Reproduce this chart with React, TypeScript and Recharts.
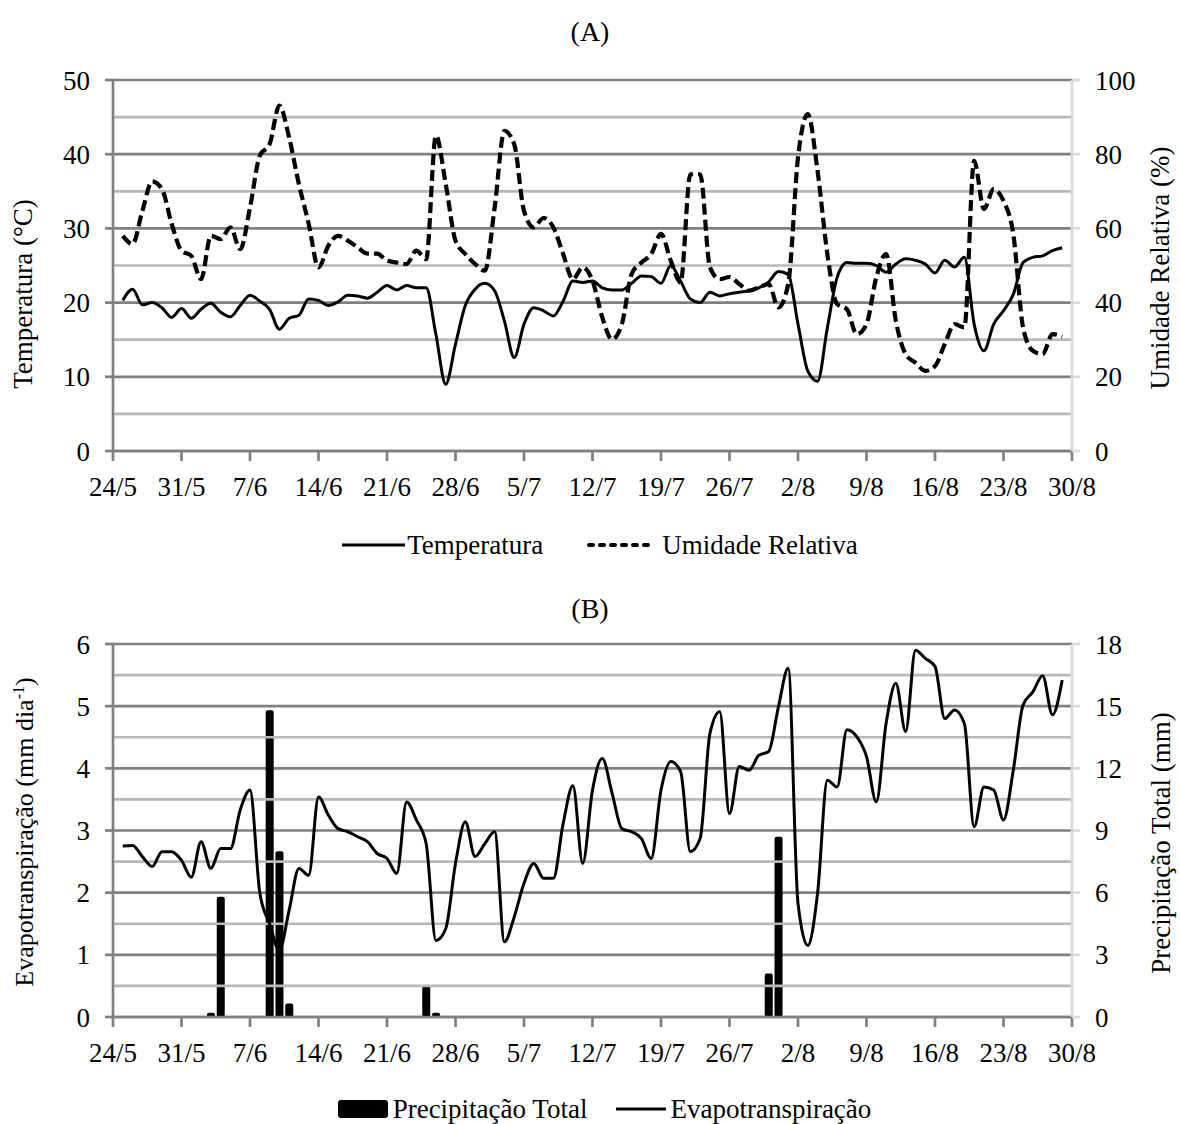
import {
  ComposedChart,
  Line,
  Bar,
  XAxis,
  YAxis,
  CartesianGrid,
  ReferenceLine,
  Legend,
} from "recharts";

// eixo x: dias contados a partir de 24/5
const tickDays = [0, 7, 14, 21, 28, 35, 42, 49, 56, 63, 70, 77, 84, 91, 98];
const tickLabels = [
  "24/5", "31/5", "7/6", "14/6", "21/6", "28/6", "5/7", "12/7",
  "19/7", "26/7", "2/8", "9/8", "16/8", "23/8", "30/8",
];

// (A) temperatura media diaria (°C), 25/5 a 29/8
const temperatura = [
  20.3, 21.8, 19.7, 20.0, 19.3, 18.0, 19.2, 17.9, 19.1, 19.9,
  18.7, 18.1, 19.6, 21.0, 20.2, 19.1, 16.4, 17.9, 18.3, 20.5,
  20.3, 19.6, 20.1, 21.0, 20.9, 20.6, 21.4, 22.3, 21.7, 22.3,
  22.0, 22.0, 15.7, 9.0, 14.4, 19.6, 21.8, 22.6, 21.6, 17.5,
  12.6, 17.1, 19.3, 18.9, 18.2, 20.2, 22.9, 22.7, 22.9, 22.0,
  21.7, 21.7, 22.6, 23.6, 23.5, 22.6, 25.0, 22.9, 20.5, 20.0,
  21.4, 20.9, 21.2, 21.4, 21.6, 22.0, 22.8, 24.2, 23.8, 17.1,
  10.8, 9.4, 16.6, 23.4, 25.4, 25.3, 25.3, 25.0, 24.1, 25.2,
  25.9, 25.7, 25.2, 24.0, 25.7, 24.8, 26.1, 17.1, 13.5, 17.1,
  18.9, 21.1, 25.4, 26.1, 26.3, 27.0, 27.4,
];

// (A) umidade relativa (%)
const umidade = [
  58.0, 55.8, 64.7, 72.7, 70.6, 61.2, 54.0, 52.6, 46.3, 58.0,
  57.1, 60.3, 54.4, 65.6, 79.6, 82.7, 93.1, 84.5, 71.9, 61.2,
  49.5, 55.3, 58.0, 56.7, 54.9, 53.2, 53.2, 51.3, 50.8, 50.4,
  54.0, 51.7, 85.0, 72.0, 56.7, 53.1, 50.4, 48.6, 65.6, 86.3,
  82.7, 64.7, 60.3, 62.8, 60.3, 53.1, 46.3, 49.5, 45.9, 36.0,
  30.1, 34.2, 47.7, 50.8, 53.1, 58.5, 51.3, 45.4, 74.6, 74.6,
  49.5, 46.3, 46.9, 45.0, 43.2, 44.1, 45.0, 38.7, 45.0, 79.1,
  90.8, 75.5, 53.1, 39.6, 38.2, 31.5, 34.2, 46.8, 53.1, 35.1,
  26.1, 23.8, 21.6, 22.9, 28.8, 34.2, 33.3, 78.2, 65.2, 70.6,
  67.4, 58.5, 33.3, 27.0, 26.1, 31.5, 30.8,
];

// (B) evapotranspiracao (mm dia-1)
const evapo = [
  2.75, 2.76, 2.58, 2.42, 2.66, 2.66, 2.52, 2.25, 2.82, 2.39,
  2.71, 2.71, 3.33, 3.65, 2.0, 1.5, 1.07, 1.72, 2.39, 2.28,
  3.54, 3.25, 3.03, 2.98, 2.9, 2.82, 2.63, 2.55, 2.31, 3.46,
  3.17, 2.79, 1.23, 1.42, 2.47, 3.14, 2.58, 2.79, 2.98, 1.21,
  1.61, 2.15, 2.47, 2.23, 2.23, 3.11, 3.72, 2.47, 3.65, 4.16,
  3.6, 3.03, 2.98, 2.87, 2.55, 3.65, 4.11, 3.95, 2.66, 2.87,
  4.56, 4.91, 3.27, 4.03, 3.97, 4.21, 4.27, 4.99, 5.61, 1.83,
  1.15, 1.99, 3.81, 3.7, 4.62, 4.51, 4.19, 3.46, 4.72, 5.37,
  4.59, 5.9, 5.77, 5.64, 4.8, 4.94, 4.72, 3.06, 3.7, 3.65,
  3.17, 3.97, 5.02, 5.23, 5.49, 4.86, 5.42,
];

// (B) precipitacao total (mm), so os dias com chuva
const chuvaDias = [10, 11, 16, 17, 18, 32, 33, 67, 68];
const chuvaMm = [0.2, 5.8, 14.8, 8.0, 0.65, 1.5, 0.2, 2.1, 8.7];

const ticksTemp = [0, 10, 20, 30, 40, 50];
const minorTemp = [5, 15, 25, 35, 45];
const ticksUR = [0, 20, 40, 60, 80, 100];
const ticksET = [0, 1, 2, 3, 4, 5, 6];
const minorET = [0.5, 1.5, 2.5, 3.5, 4.5, 5.5];
const ticksChuva = [0, 3, 6, 9, 12, 15, 18];

const dataA = temperatura.map((t, i) => ({ d: i + 1, temp: t, ur: umidade[i] }));
const dataB = evapo.map((e, i) => {
  const k = chuvaDias.indexOf(i + 1);
  return { d: i + 1, et: e, chuva: k >= 0 ? chuvaMm[k] : null };
});

const FONT = "'Liberation Serif', 'Times New Roman', serif";
const MAJOR = "#808080";
const MINOR = "#b8b8b8";
const RIGHT = "#d9d9d9";
const tickStyle = { fontSize: 27, fill: "#000", fontFamily: FONT };
const fmtDate = (v: number) => tickLabels[tickDays.indexOf(v)] ?? "";

function AxisTitle({ x, y, size = 27, children }: { x: number; y: number; size?: number; children: any }) {
  return (
    <div
      style={{
        position: "absolute",
        left: x,
        top: y,
        transform: "translate(-50%, -50%) rotate(-90deg)",
        whiteSpace: "nowrap",
        fontFamily: FONT,
        fontSize: size,
        lineHeight: "30px",
      }}
    >
      {children}
    </div>
  );
}

function PanelTitle({ y, text }: { y: number; text: string }) {
  return (
    <div
      style={{
        position: "absolute",
        left: 0,
        top: y,
        width: 1180,
        textAlign: "center",
        fontFamily: FONT,
        fontSize: 28,
        lineHeight: "30px",
      }}
    >
      {text}
    </div>
  );
}

const legendRow = {
  display: "flex",
  justifyContent: "center",
  alignItems: "center",
  fontFamily: FONT,
  fontSize: 27,
  lineHeight: "30px",
  color: "#000",
};

function LegendA() {
  return (
    <div style={{ ...legendRow, paddingLeft: 20 }}>
      <svg width={63} height={10}>
        <line x1={0} y1={5} x2={63} y2={5} stroke="#000" strokeWidth={3} />
      </svg>
      <span style={{ marginLeft: 2 }}>Temperatura</span>
      <svg width={66} height={10} style={{ marginLeft: 44 }}>
        <line
          x1={2}
          y1={5}
          x2={64}
          y2={5}
          stroke="#000"
          strokeWidth={4}
          strokeDasharray="4 7"
          strokeLinecap="round"
        />
      </svg>
      <span style={{ marginLeft: 9 }}>Umidade Relativa</span>
    </div>
  );
}

function LegendB() {
  return (
    <div style={{ ...legendRow, paddingLeft: 29 }}>
      <svg width={50} height={18}>
        <rect x={0} y={0} width={50} height={18} rx={3} fill="#000" />
      </svg>
      <span style={{ marginLeft: 5 }}>Precipitação Total</span>
      <svg width={50} height={10} style={{ marginLeft: 29 }}>
        <line x1={0} y1={5} x2={50} y2={5} stroke="#000" strokeWidth={3} />
      </svg>
      <span style={{ marginLeft: 4 }}>Evapotranspiração</span>
    </div>
  );
}

export default function App() {
  return (
    <div style={{ position: "relative", width: 1180, height: 1124, background: "#fff" }}>
      <style>{`body{margin:0}`}</style>

      <PanelTitle y={17} text="(A)" />
      <div style={{ position: "absolute", left: 0, top: 0 }}>
        <ComposedChart
          width={1180}
          height={580}
          data={dataA}
          margin={{ top: 80, right: 0, bottom: 89, left: 0 }}
        >
          <CartesianGrid yAxisId="left" vertical={false} stroke={MAJOR} strokeWidth={2.7} />
          {minorTemp.map((v) => (
            <ReferenceLine key={v} yAxisId="left" y={v} stroke={MINOR} strokeWidth={2.7} />
          ))}
          <XAxis
            dataKey="d"
            type="number"
            domain={[0, 98]}
            ticks={tickDays}
            interval={0}
            tickFormatter={fmtDate}
            tick={tickStyle}
            height={40}
            tickSize={10}
            tickMargin={16}
            stroke={MAJOR}
            strokeWidth={2.7}
          />
          <YAxis
            yAxisId="left"
            domain={[0, 50]}
            ticks={ticksTemp}
            interval={0}
            width={113}
            tick={tickStyle}
            tickSize={8}
            tickMargin={15}
            stroke={MAJOR}
            strokeWidth={2.7}
          />
          <YAxis
            yAxisId="right"
            orientation="right"
            domain={[0, 100]}
            ticks={ticksUR}
            interval={0}
            width={108}
            tick={tickStyle}
            tickSize={8}
            tickMargin={15}
            stroke={RIGHT}
            strokeWidth={2.7}
          />
          <Line
            yAxisId="left"
            type="monotone"
            dataKey="temp"
            name="Temperatura"
            stroke="#000"
            strokeWidth={3}
            dot={false}
            isAnimationActive={false}
          />
          <Line
            yAxisId="right"
            type="monotone"
            dataKey="ur"
            name="Umidade Relativa"
            stroke="#000"
            strokeWidth={4.2}
            strokeDasharray="11 5"
            dot={false}
            isAnimationActive={false}
          />
          <Legend
            layout="horizontal"
            align="center"
            verticalAlign="middle"
            wrapperStyle={{ top: 530, left: 0, width: 1180 }}
            content={() => <LegendA />}
          />
        </ComposedChart>
      </div>
      <AxisTitle x={23} y={294}>Temperatura (°C)</AxisTitle>
      <AxisTitle x={1160} y={268}>Umidade Relativa (%)</AxisTitle>

      <PanelTitle y={594} text="(B)" />
      <div style={{ position: "absolute", left: 0, top: 580 }}>
        <ComposedChart
          width={1180}
          height={544}
          data={dataB}
          margin={{ top: 64, right: 0, bottom: 67, left: 0 }}
        >
          <CartesianGrid yAxisId="left" vertical={false} stroke={MAJOR} strokeWidth={2.7} />
          {minorET.map((v) => (
            <ReferenceLine key={v} yAxisId="left" y={v} stroke={MINOR} strokeWidth={2.7} />
          ))}
          <XAxis
            dataKey="d"
            type="number"
            domain={[0, 98]}
            ticks={tickDays}
            interval={0}
            tickFormatter={fmtDate}
            tick={tickStyle}
            height={40}
            tickSize={10}
            tickMargin={16}
            stroke={MAJOR}
            strokeWidth={2.7}
          />
          <YAxis
            yAxisId="left"
            domain={[0, 6]}
            ticks={ticksET}
            interval={0}
            width={113}
            tick={tickStyle}
            tickSize={8}
            tickMargin={15}
            stroke={MAJOR}
            strokeWidth={2.7}
          />
          <YAxis
            yAxisId="right"
            orientation="right"
            domain={[0, 18]}
            ticks={ticksChuva}
            interval={0}
            width={108}
            tick={tickStyle}
            tickSize={8}
            tickMargin={15}
            stroke={RIGHT}
            strokeWidth={2.7}
          />
          <Bar
            yAxisId="right"
            dataKey="chuva"
            name="Precipitação Total"
            fill="#000"
            barSize={8}
            radius={[2, 2, 2, 2]}
            isAnimationActive={false}
          />
          <Line
            yAxisId="left"
            type="monotone"
            dataKey="et"
            name="Evapotranspiração"
            stroke="#000"
            strokeWidth={3}
            dot={false}
            isAnimationActive={false}
          />
          <Legend
            layout="horizontal"
            align="center"
            verticalAlign="middle"
            wrapperStyle={{ top: 514, left: 0, width: 1180 }}
            content={() => <LegendB />}
          />
        </ComposedChart>
      </div>
      <AxisTitle x={22} y={832} size={26}>
        Evapotranspiração (mm dia
        <sup style={{ fontSize: 16 }}>-1</sup>)
      </AxisTitle>
      <AxisTitle x={1161} y={843}>Precipitação Total (mm)</AxisTitle>
    </div>
  );
}
